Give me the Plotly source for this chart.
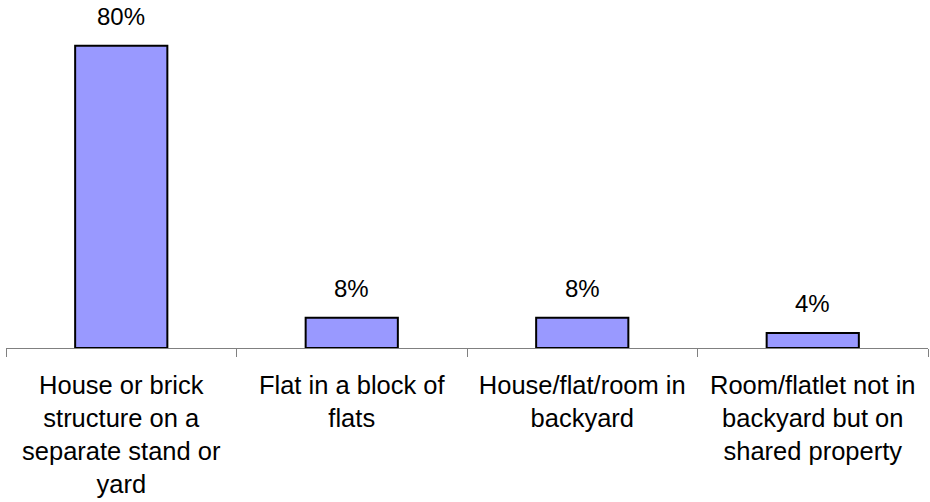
import plotly.graph_objects as go

# Dwelling type categories and their share of households (%)
categories = [
    "House or brick<br>structure on a<br>separate stand or<br>yard",
    "Flat in a block of<br>flats",
    "House/flat/room in<br>backyard",
    "Room/flatlet not in<br>backyard but on<br>shared property",
]
values = [80, 8, 8, 4]
value_labels = [f"{v}%" for v in values]

FONT = "Arial, Liberation Sans, sans-serif"

fig = go.Figure(
    go.Bar(
        x=categories,
        y=values,
        width=0.4,
        marker=dict(color="#9999FF", line=dict(color="#000000", width=2)),
        hoverinfo="skip",
    )
)

for cat, v, lab in zip(categories, values, value_labels):
    fig.add_annotation(
        x=cat, y=v, text=lab, showarrow=False,
        yanchor="bottom", yshift=14,
        font=dict(family=FONT, size=24, color="#000000"),
    )

fig.update_layout(
    width=930, height=502,
    margin=dict(l=6, r=2, t=8, b=154),
    paper_bgcolor="white", plot_bgcolor="white",
    showlegend=False,
    bargap=0.6,
    font=dict(family=FONT, size=24, color="#000000"),
)

fig.update_xaxes(
    type="category",
    showline=True, linecolor="#808080", linewidth=1,
    ticks="outside", tickson="boundaries", ticklen=8, tickcolor="#808080", tickwidth=1,
    showgrid=False, zeroline=False,
    tickfont=dict(family=FONT, size=25.5, color="#000000"),
    ticklabelstandoff=14,
    tickangle=0,
)
fig.update_yaxes(visible=False, range=[0, 90], showgrid=False, zeroline=False)

fig.write_html("out.html")
